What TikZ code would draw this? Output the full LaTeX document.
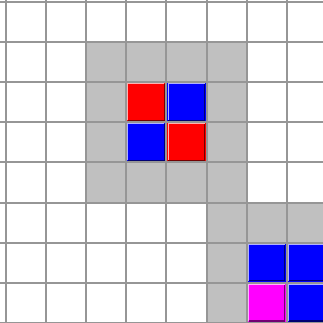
\documentclass[tikz,border=0pt]{standalone}
\definecolor{cellgray}{RGB}{192,192,192}
\definecolor{linegray}{RGB}{150,150,150}
\definecolor{tilered}{RGB}{255,0,0}
\definecolor{tileblue}{RGB}{0,0,255}
\definecolor{tilemagenta}{RGB}{255,0,255}
\tikzset{
  gridline/.style={draw=linegray, line width=2pt},
  shade/.style={fill=cellgray},
}
% tile: column, row, colour
\newcommand\tile[3]{%
  \fill[#3] (#1,#2) rectangle ++(1,1);
  \draw[white!70!#3, line width=1pt] (#1+0.04,#2+0.95)--(#1+0.04,#2+0.04)--(#1+0.95,#2+0.04);
  \draw[#3!45!black, line width=1.5pt] (#1+0.05,#2+0.95)--(#1+0.95,#2+0.95)--(#1+0.95,#2+0.05);
}
\begin{document}
\begin{tikzpicture}[x=40.1pt,y=-40.1pt]
    \useasboundingbox (-0.1496,-0.0499) rectangle (7.905,7.980);
    \clip (-0.1496,-0.0499) rectangle (7.905,7.980);
    % grey frame round the first block
    \foreach \c in {2,...,5}{
        \fill[shade] (\c,1) rectangle ++(1,1);
        \fill[shade] (\c,4) rectangle ++(1,1);
    }
    \foreach \r in {2,3}{
        \fill[shade] (2,\r) rectangle ++(1,1);
        \fill[shade] (5,\r) rectangle ++(1,1);
    }
    % grey frame round the second block
    \foreach \r in {5,6,7}
        \fill[shade] (5,\r) rectangle ++(1,1);
    \foreach \c in {6,7}
        \fill[shade] (\c,5) rectangle ++(1,1);
    % coloured tiles
    \tile{3}{2}{tilered}
    \tile{4}{2}{tileblue}
    \tile{3}{3}{tileblue}
    \tile{4}{3}{tilered}
    \tile{6}{6}{tileblue}
    \tile{7}{6}{tileblue}
    \tile{6}{7}{tilemagenta}
    \tile{7}{7}{tileblue}
    % grid
    \foreach \k in {0,...,8}{
        \draw[gridline] (\k,-1)--(\k,9);
        \draw[gridline] (-1,\k)--(9,\k);
    }
\end{tikzpicture}
\end{document}
